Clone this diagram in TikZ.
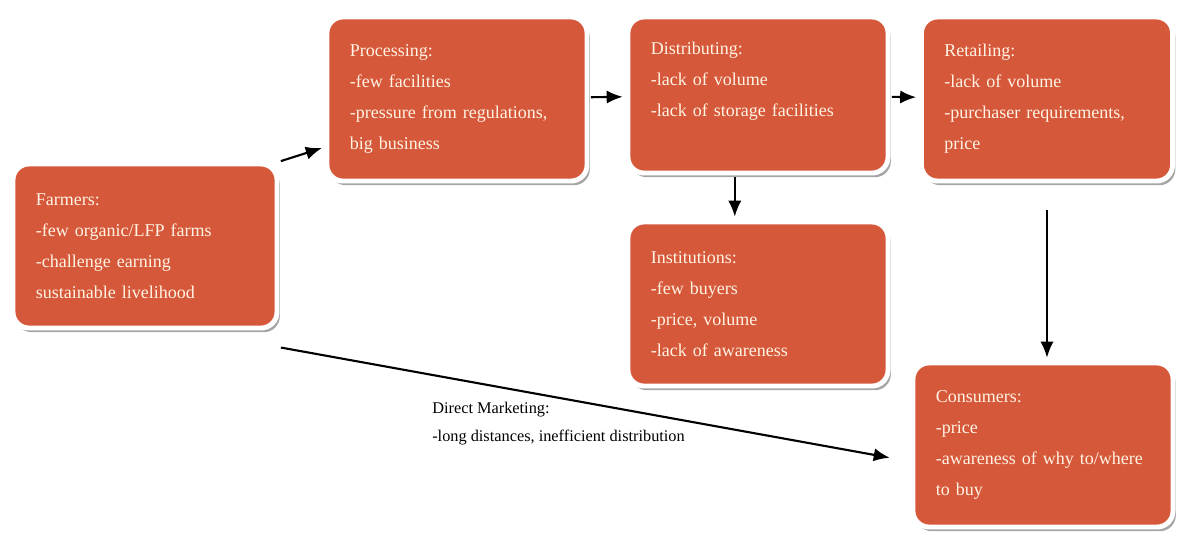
\documentclass[tikz,border=0pt]{standalone}
\usepackage{fontspec}
\setmainfont{Liberation Serif}
\usepackage{tikz}
\usetikzlibrary{arrows.meta,shadows}
\definecolor{boxred}{RGB}{214,88,58}
\definecolor{boxtext}{RGB}{255,244,228}

\begin{document}
\begin{tikzpicture}
[x=0.025cm,y=-0.025cm,
 stage/.style={rectangle,rounded corners=0.4cm,fill=boxred,draw=white,line width=3.5pt,
   drop shadow={shadow xshift=2pt,shadow yshift=-3pt,opacity=.5,fill=black!70},
   text=boxtext,font=\fontsize{12.8}{22}\selectfont,align=left,
   text width=5.35cm,inner xsep=0.575cm,inner ysep=0pt,minimum height=4.1cm},
 note/.style={align=left,inner sep=0pt,font=\fontsize{11.6}{20}\selectfont},
 flow/.style={line width=1.5pt,-{Latex[length=4mm,width=3.3mm]},shorten <=1pt,shorten >=2pt}]
\useasboundingbox (0,0) rectangle (1180,541);
\node[stage,text width=5.45cm] (farmers) at (145,246) {Farmers:\\-few organic/LFP farms\\-challenge earning\\sustainable livelihood};
\node[stage] (processing) at (457,99) {Processing:\\-few facilities\\-pressure from regulations,\\big business};
\node[stage,minimum height=3.9cm] (distributing) at (758,95) {Distributing:\\-lack of volume\\-lack of storage facilities\\~};
\node[stage,text width=5.125cm] (retailing) at (1047,99) {Retailing:\\-lack of volume\\-purchaser requirements,\\price};
\node[stage] (institutions) at (758,304) {Institutions:\\-few buyers\\-price, volume\\-lack of awareness};
\node[stage] (consumers) at (1043,445) {Consumers:\\-price\\-awareness of why to/where\\to buy};
\node[note,anchor=north west] (direct) at (432,402) {Direct Marketing:\\-long distances, inefficient distribution};

\draw[flow] (farmers.north east) -- (processing.200);
\foreach \from/\to in {processing/distributing,distributing/retailing}
\draw[flow] (\from) -- (\to);
\draw[flow] ([xshift=-0.58cm]distributing.south) -- ([xshift=-0.58cm]distributing.south |- institutions.north);
\draw[flow,shorten <=19pt] (retailing.south) -- (retailing.south |- consumers.north);
\draw[flow] ([yshift=-0.42cm]farmers.south east) -- ([xshift=-0.45cm,yshift=-0.33cm]consumers.west);

\end{tikzpicture}
\end{document}
